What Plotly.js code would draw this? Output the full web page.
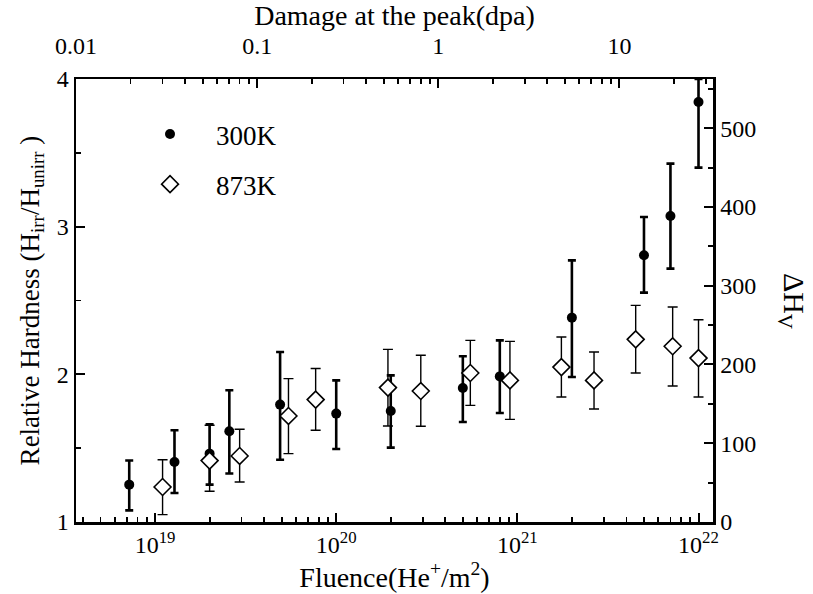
<!DOCTYPE html>
<html>
<head>
<meta charset="utf-8">
<script src="https://cdn.plot.ly/plotly-3.0.1.min.js"></script>
<style>html,body{margin:0;padding:0;background:#fff;}#chart{width:813px;height:594px;}</style>
</head>
<body>
<div id="chart"></div>
<script>
// ---- data ----
const fluence300 = [7.2e18, 1.28e19, 2.0e19, 2.57e19, 4.9e19, 1.0e20, 2.0e20, 5.0e20, 8.0e20, 2.0e21, 5.0e21, 7.0e21, 1.0e22];
const hard300    = [1.253, 1.406, 1.463, 1.614, 1.795, 1.734, 1.752, 1.907, 1.986, 2.384, 2.806, 3.072, 3.844];
const hard300Hi  = [1.416, 1.621, 1.661, 1.892, 2.151, 1.959, 1.993, 2.122, 2.230, 2.772, 3.065, 3.427, 4.0];
const hard300Lo  = [1.079, 1.196, 1.253, 1.328, 1.422, 1.494, 1.504, 1.677, 1.738, 1.982, 2.553, 2.716, 3.40];

const fluence873 = [1.1e19, 2.0e19, 2.93e19, 5.45e19, 7.7e19, 1.93e20, 2.93e20, 5.5e20, 9.1e20, 1.75e21, 2.65e21, 4.5e21, 7.2e21, 1.0e22];
const hard873    = [1.237, 1.416, 1.447, 1.718, 1.829, 1.910, 1.887, 2.009, 1.959, 2.049, 1.959, 2.237, 2.190, 2.110];
const hard873Hi  = [1.422, 1.655, 1.628, 1.971, 2.039, 2.169, 2.129, 2.230, 2.223, 2.253, 2.151, 2.467, 2.456, 2.370];
const hard873Lo  = [1.050, 1.208, 1.271, 1.463, 1.621, 1.650, 1.648, 1.790, 1.695, 1.846, 1.765, 2.009, 1.921, 1.846];

const seriesNames = ['300K', '873K'];

// tick labels
const fluenceTicks = [1e19, 1e20, 1e21, 1e22];
const fluenceTickText = ['10<sup>19</sup>', '10<sup>20</sup>', '10<sup>21</sup>', '10<sup>22</sup>'];
const fluenceMinor = [4e18,5e18,6e18,7e18,8e18,9e18,2e19,3e19,4e19,5e19,6e19,7e19,8e19,9e19,2e20,3e20,4e20,5e20,6e20,7e20,8e20,9e20,2e21,3e21,4e21,5e21,6e21,7e21,8e21,9e21];
const dpaTicks = [0.01, 0.1, 1, 10];
const dpaTickText = ['0.01', '0.1', '1', '10'];
const dpaMinor = [0.02,0.03,0.04,0.05,0.06,0.07,0.08,0.09,0.2,0.3,0.4,0.5,0.6,0.7,0.8,0.9,2,3,4,5,6,7,8,9,20,30];
const hardTicks = [1, 2, 3, 4];
const hardMinor = [1.5, 2.5, 3.5];
const hvTicks = [0, 100, 200, 300, 400, 500];
const hvMinor = [50, 150, 250, 350, 450, 550];

// axis relations (scale conversions)
const dpaPerFluence = Math.pow(10, -20.5635);
const hvPerUnit = 187.5;

const FONT = "'Liberation Serif', 'Times New Roman', 'DejaVu Serif', serif";

const diff = (a, b) => a.map((v, i) => v - b[i]);

const traces = [
  {
    x: fluence300, y: hard300, name: seriesNames[0], type: 'scatter', mode: 'markers',
    legendgroup: 'a',
    marker: {symbol: 'circle', size: 10, color: 'black'},
    error_y: {type: 'data', symmetric: false, array: diff(hard300Hi, hard300), arrayminus: diff(hard300, hard300Lo),
              color: 'black', thickness: 2.6, width: 4}
  },
  {
    x: fluence873, y: hard873, name: seriesNames[1], type: 'scatter', mode: 'markers',
    legendgroup: 'b',
    marker: {symbol: 'diamond', size: 13, color: 'white', line: {color: 'black', width: 1.6}},
    error_y: {type: 'data', symmetric: false, array: diff(hard873Hi, hard873), arrayminus: diff(hard873, hard873Lo),
              color: 'black', thickness: 1.4, width: 5}
  },
  {
    // carries the secondary (dpa / ΔHv) axes
    x: fluence300.map(v => v * dpaPerFluence), y: hard300.map(v => (v - 1) * hvPerUnit),
    xaxis: 'x2', yaxis: 'y2', type: 'scatter', mode: 'markers', showlegend: false, hoverinfo: 'skip',
    marker: {opacity: 0, size: 1}
  }
];

const axisCommon = {
  showline: true, linecolor: 'black', linewidth: 2.5, showgrid: false, zeroline: false,
  ticks: 'inside', ticklen: 9, tickwidth: 2, tickcolor: 'black',
  tickfont: {family: FONT, size: 24, color: 'black'}
};
const minorCommon = {tickmode: 'array', ticks: 'inside', ticklen: 5, tickwidth: 1.8, tickcolor: 'black', showgrid: false};

const layout = {
  width: 813, height: 594,
  margin: {l: 76, r: 100, t: 79, b: 72},
  paper_bgcolor: 'white', plot_bgcolor: 'white',
  font: {family: FONT, color: 'black'},
  showlegend: true,
  legend: {x: 0.0754, y: 0.93, xanchor: 'left', yanchor: 'top', bgcolor: 'rgba(0,0,0,0)', itemwidth: 82,
           font: {family: FONT, size: 27, color: 'black'}, traceorder: 'grouped', tracegroupgap: 12},
  xaxis: Object.assign({}, axisCommon, {
    type: 'log', range: [18.5635, 22.08], tickmode: 'array', tickvals: fluenceTicks, ticktext: fluenceTickText,
    minor: Object.assign({}, minorCommon, {tickvals: fluenceMinor}),
    title: {text: 'Fluence(He<sup>+</sup>/m<sup>2</sup>)', font: {family: FONT, size: 28, color: 'black'}, standoff: 2}
  }),
  xaxis2: Object.assign({}, axisCommon, {
    type: 'log', range: [-2, 1.5165], overlaying: 'x', side: 'top', anchor: 'y',
    tickmode: 'array', tickvals: dpaTicks, ticktext: dpaTickText, ticklabelstandoff: 13,
    minor: Object.assign({}, minorCommon, {tickvals: dpaMinor}),
    title: {text: 'Damage at the peak(dpa)', font: {family: FONT, size: 28, color: 'black'}, standoff: 6}
  }),
  yaxis: Object.assign({}, axisCommon, {
    range: [1, 4], tickmode: 'array', tickvals: hardTicks,
    minor: Object.assign({}, minorCommon, {tickvals: hardMinor}),
    title: {text: 'Relative Hardness (H<sub>irr</sub>/H<sub>unirr</sub> )', font: {family: FONT, size: 27, color: 'black'}, standoff: 10}
  }),
  yaxis2: Object.assign({}, axisCommon, {
    range: [0, 3 * hvPerUnit], overlaying: 'y', side: 'right', anchor: 'x',
    tickmode: 'array', tickvals: hvTicks,
    minor: Object.assign({}, minorCommon, {tickvals: hvMinor})
  }),
  annotations: [{
    text: 'ΔH<sub>V</sub>', xref: 'paper', yref: 'paper', x: 1.125, y: 0.5, xanchor: 'center', yanchor: 'middle',
    textangle: 90, showarrow: false, font: {family: FONT, size: 30, color: 'black'}
  }]
};

Plotly.newPlot('chart', traces, layout, {staticPlot: true, displayModeBar: false});
</script>
</body>
</html>
